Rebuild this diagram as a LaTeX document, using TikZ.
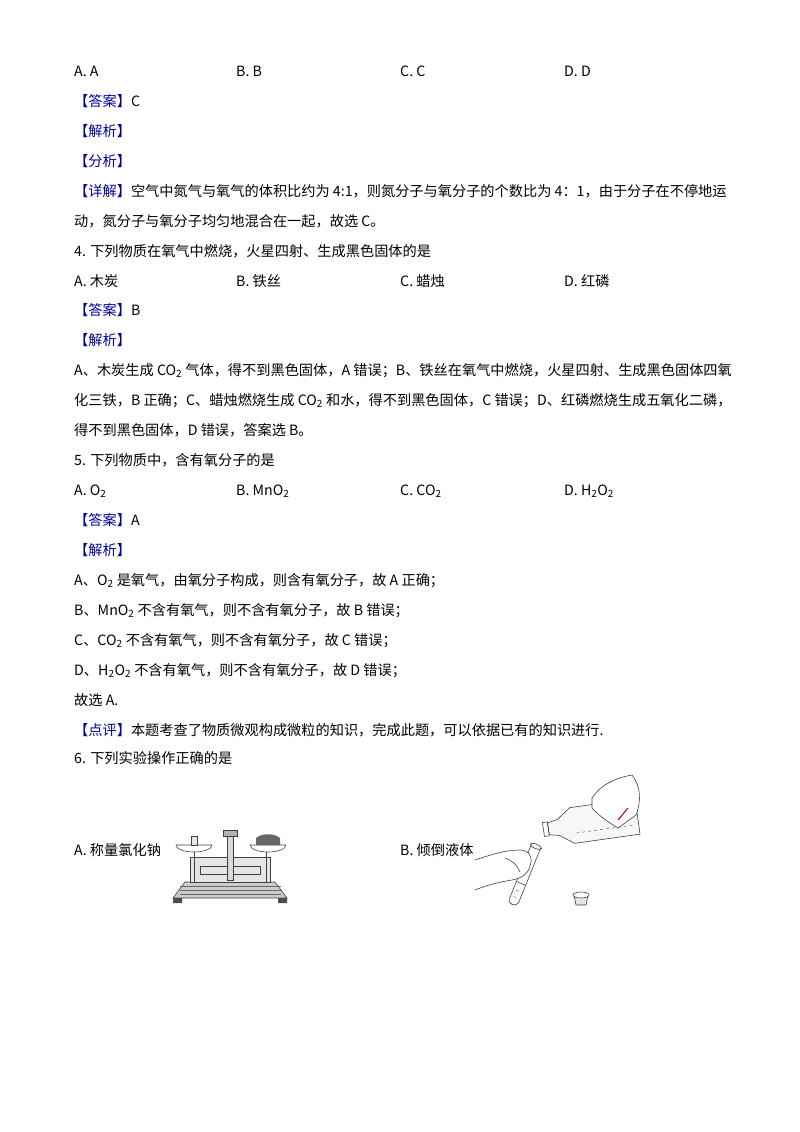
\documentclass[tikz,border=0pt]{standalone}
\usepackage{fontspec}
\setmainfont{Noto Sans CJK SC}
\begin{document}
\begin{tikzpicture}[x=1pt,y=-1pt,
  t/.style={anchor=base west,inner sep=0pt,font=\fontsize{14.2}{16}\selectfont},
  k/.style={t,text=blue!60!black},
  ln/.style={line width=0.6pt,black!75}]
\useasboundingbox (0,0) rectangle (800,1132);
\node[t] (a1) at (74,77) {A. A};
\node[t] (a2) at (236,77) {B. B};
\node[t] (a3) at (400,77) {C. C};
\node[t] (a4) at (564,77) {D. D};
\node[t] (l1) at (74,106) {\textcolor{blue!60!black}{【答案】}C};
\node[k] (l2) at (74,136) {【解析】};
\node[k] (l3) at (74,166) {【分析】};
\node[t] (l4) at (74,196) {\textcolor{blue!60!black}{【详解】}空气中氮气与氧气的体积比约为 4:1，则氮分子与氧分子的个数比为 4：1，由于分子在不停地运};
\node[t] (l5) at (74,226) {动，氮分子与氧分子均匀地混合在一起，故选 C。};
\node[t] (l6) at (74,256) {4. 下列物质在氧气中燃烧，火星四射、生成黑色固体的是};
\node[t] (b1) at (74,286) {A. 木炭};
\node[t] (b2) at (236,286) {B. 铁丝};
\node[t] (b3) at (400,286) {C. 蜡烛};
\node[t] (b4) at (564,286) {D. 红磷};
\node[t] (l7) at (74,315) {\textcolor{blue!60!black}{【答案】}B};
\node[k] (l8) at (74,345) {【解析】};
\node[t] (l9) at (74,375) {A、木炭生成 CO\textsubscript{2} 气体，得不到黑色固体，A 错误；B、铁丝在氧气中燃烧，火星四射、生成黑色固体四氧};
\node[t] (l10) at (74,405) {化三铁，B 正确；C、蜡烛燃烧生成 CO\textsubscript{2} 和水，得不到黑色固体，C 错误；D、红磷燃烧生成五氧化二磷，};
\node[t] (l11) at (74,435) {得不到黑色固体，D 错误，答案选 B。};
\node[t] (l12) at (74,465) {5. 下列物质中，含有氧分子的是};
\node[t] (c1) at (74,495) {A. O\textsubscript{2}};
\node[t] (c2) at (236,495) {B. MnO\textsubscript{2}};
\node[t] (c3) at (400,495) {C. CO\textsubscript{2}};
\node[t] (c4) at (564,495) {D. H\textsubscript{2}O\textsubscript{2}};
\node[t] (l13) at (74,525) {\textcolor{blue!60!black}{【答案】}A};
\node[k] (l14) at (74,555) {【解析】};
\node[t] (l15) at (74,585) {A、O\textsubscript{2} 是氧气，由氧分子构成，则含有氧分子，故 A 正确；};
\node[t] (l16) at (74,615) {B、MnO\textsubscript{2} 不含有氧气，则不含有氧分子，故 B 错误；};
\node[t] (l17) at (74,645) {C、CO\textsubscript{2} 不含有氧气，则不含有氧分子，故 C 错误；};
\node[t] (l18) at (74,675) {D、H\textsubscript{2}O\textsubscript{2} 不含有氧气，则不含有氧分子，故 D 错误；};
\node[t] (l19) at (74,705) {故选 A.};
\node[t] (l20) at (74,735) {\textcolor{blue!60!black}{【点评】}本题考查了物质微观构成微粒的知识，完成此题，可以依据已有的知识进行.};
\node[t] (l21) at (74,763) {6. 下列实验操作正确的是};
\node[t] (oa) at (74,855) {A. 称量氯化钠};
\node[t] (ob) at (400,855) {B. 倾倒液体};
% balance
\fill[black!20] (185,882) -- (275,882) -- (287,898) -- (173,898) -- cycle;
\draw[ln] (185,882) -- (275,882) -- (287,898) -- (173,898) -- cycle;
\foreach \yy in {886,890,894} \draw[black!60] (180,\yy) -- (281,\yy);
\fill[black!70] (173,898) rectangle (182,903) (278,898) rectangle (287,903);
\draw[ln,fill=black!10] (190,857) rectangle (270,882);
\draw[ln] (200,866) -- (260,866) -- (260,874) -- (200,874) -- cycle;
\draw[ln,fill=black!30] (223,830) rectangle (237,836);
\draw[ln,fill=black!15] (227,836) rectangle (233,880);
\draw[ln] (194,850) -- (194,882) (266,850) -- (266,882);
\draw[ln,fill=white] (176,845) arc (180:0:18 and 7) -- cycle;
\draw[ln,fill=white] (250,845) arc (180:0:18 and 7) -- cycle;
\draw[ln,fill=black!10] (191,836) rectangle (197,845);
\fill[black!60] (256,838) .. controls (262,833) and (274,833) .. (280,838) -- (280,845) -- (256,845) -- cycle;
% pouring: bottle
\begin{scope}[shift={(590,823)},rotate=8]
\draw[ln,fill=black!3] (-42,-6) -- (-32,-8) -- (-18,-18) -- (48,-18) -- (48,18) -- (-18,18) -- (-32,8) -- (-42,6) -- cycle;
\draw[ln] (-47,-7) rectangle (-42,7);
\draw[dashed,black!70] (-15,8) -- (45,8);
\end{scope}
\draw[ln,fill=white] (592,798) .. controls (600,785) and (615,778) .. (632,775) .. controls (640,785) and (642,800) .. (636,815) -- (618,828) .. controls (608,822) and (598,815) .. (592,808) -- cycle;
\draw[red!70!black,line width=1pt] (618,820) -- (628,808);
% test tube
\begin{scope}[shift={(524,876)},rotate=-22]
\draw[ln,fill=white] (-5,-32) -- (-5,26) arc (180:0:5) -- (5,-32);
\draw[ln] (0,-32) ellipse (6 and 2.2);
\draw[ln] (-5,8) -- (5,8);
\draw[black!70] (-2,16) -- (1,16) (-2,23) -- (1,23);
\end{scope}
% hand
\draw[ln,fill=white] (475,860) .. controls (490,855) and (505,850) .. (520,850) .. controls (530,850) and (533,858) .. (530,866) .. controls (528,874) and (522,878) .. (512,880) .. controls (500,882) and (490,884) .. (475,890);
\draw[ln] (505,858) .. controls (512,860) and (518,866) .. (520,872);
% stopper
\draw[ln,fill=black!10] (574,895) -- (576,905) -- (586,905) -- (588,895) -- cycle;
\draw[ln,fill=white] (581,895) ellipse (8 and 3);
\end{tikzpicture}
\end{document}
